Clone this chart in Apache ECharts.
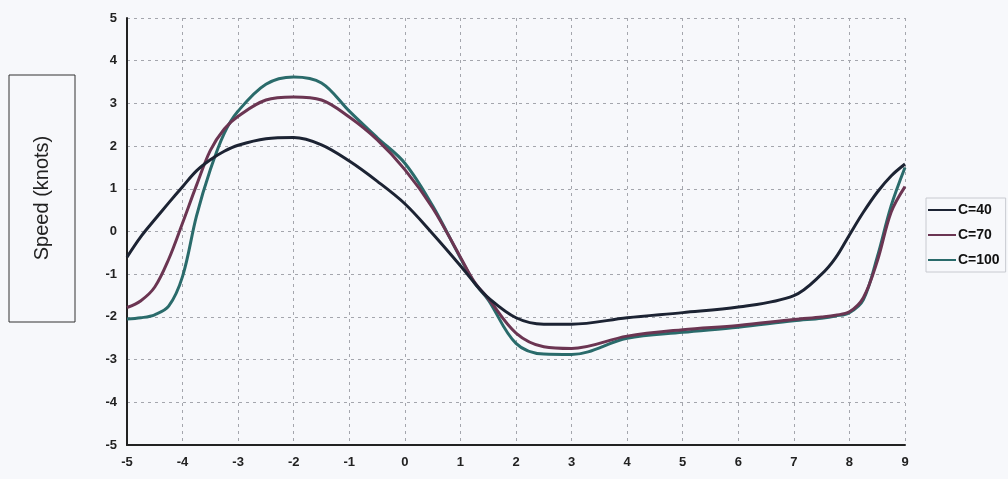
<!DOCTYPE html>
<html>
<head>
<meta charset="utf-8">
<script src="https://cdn.jsdelivr.net/npm/echarts@6/dist/echarts.min.js"></script>
<style>
html,body{margin:0;padding:0;background:#f7f8fb;}
#chart{width:1008px;height:479px;}
</style>
</head>
<body>
<div id="chart"></div>
<script>
var xValues = [-5, -4.75, -4.5, -4.25, -4, -3.75, -3.5, -3.25, -3, -2.5, -2, -1.5, -1, -0.5, 0, 0.5, 1, 1.25, 1.5, 2, 2.5, 3, 4, 5, 6, 7, 7.5, 7.75, 8, 8.25, 8.5, 8.75, 9];
var c40 = [-0.6, -0.12, 0.28, 0.67, 1.05, 1.42, 1.68, 1.88, 2.02, 2.17, 2.2, 2.03, 1.65, 1.18, 0.65, -0.05, -0.8, -1.2, -1.55, -2.02, -2.17, -2.17, -2.02, -1.9, -1.77, -1.5, -1.0, -0.62, -0.08, 0.45, 0.92, 1.3, 1.58];
var c70 = [-1.78, -1.62, -1.3, -0.65, 0.2, 1.08, 1.9, 2.4, 2.7, 3.08, 3.15, 3.08, 2.68, 2.15, 1.45, 0.55, -0.6, -1.18, -1.57, -2.38, -2.7, -2.74, -2.45, -2.3, -2.2, -2.06, -2.0, -1.96, -1.88, -1.55, -0.7, 0.45, 1.05];
var c100 = [-2.05, -2.02, -1.95, -1.75, -1.05, 0.36, 1.45, 2.3, 2.82, 3.45, 3.62, 3.48, 2.82, 2.2, 1.6, 0.6, -0.62, -1.2, -1.6, -2.62, -2.87, -2.88, -2.5, -2.36, -2.24, -2.09, -2.03, -1.98, -1.9, -1.6, -0.6, 0.6, 1.5];
var seriesNames = ['C=40', 'C=70', 'C=100'];
var seriesColors = ['#1c2333', '#6b3552', '#2a6b6b'];
var yTitle = 'Speed (knots)';

function pairs(ys) { return xValues.map(function (x, i) { return [x, ys[i]]; }); }
var allData = [c40, c70, c100];

var chart = echarts.init(document.getElementById('chart'));
var labelStyle = { color: '#222', fontWeight: 'bold', fontSize: 13, fontFamily: 'Liberation Sans, Arial, sans-serif' };
chart.setOption({
  backgroundColor: '#f7f8fb',
  animation: false,
  grid: { left: 127, right: 103, top: 18, bottom: 34 },
  xAxis: {
    type: 'value', min: -5, max: 9, interval: 1,
    axisLine: { show: true, onZero: false, lineStyle: { color: '#222', width: 2 } },
    axisTick: { show: false },
    axisLabel: Object.assign({ margin: 11 }, labelStyle),
    splitLine: { show: true, lineStyle: { color: '#a4a6ad', type: [3, 4], width: 1 } }
  },
  yAxis: {
    type: 'value', min: -5, max: 5, interval: 1,
    axisLine: { show: true, onZero: false, lineStyle: { color: '#222', width: 2 } },
    axisTick: { show: false },
    axisLabel: Object.assign({ margin: 10 }, labelStyle),
    splitLine: { show: true, lineStyle: { color: '#a4a6ad', type: [3, 4], width: 1 } }
  },
  legend: {
    orient: 'vertical',
    left: 926, top: 198,
    itemWidth: 28, itemHeight: 10, itemGap: 11,
    padding: [5, 6, 5, 2],
    borderColor: '#c8cad0', borderWidth: 1,
    textStyle: { color: '#111', fontWeight: 'bold', fontSize: 14, fontFamily: 'Liberation Sans, Arial, sans-serif', padding: [0, 0, 0, -3] },
    data: seriesNames.map(function (n) { return { name: n, icon: 'path://M0,4L28,4L28,6L0,6Z' }; })
  },
  graphic: [
    { type: 'rect', shape: { x: 9, y: 75, width: 66, height: 247 }, style: { fill: 'none', stroke: '#333', lineWidth: 1 } },
    { type: 'text', x: 42, y: 198, rotation: Math.PI / 2,
      style: { text: yTitle, fill: '#222', fontSize: 20, fontFamily: 'Liberation Sans, Arial, sans-serif', align: 'center', verticalAlign: 'middle' } }
  ],
  series: seriesNames.map(function (n, i) {
    return {
      name: n, type: 'line', data: pairs(allData[i]), smooth: 0.35, showSymbol: false,
      color: seriesColors[i], lineStyle: { width: 3, color: seriesColors[i] }, z: 3 - i + 2
    };
  })
});
</script>
</body>
</html>
